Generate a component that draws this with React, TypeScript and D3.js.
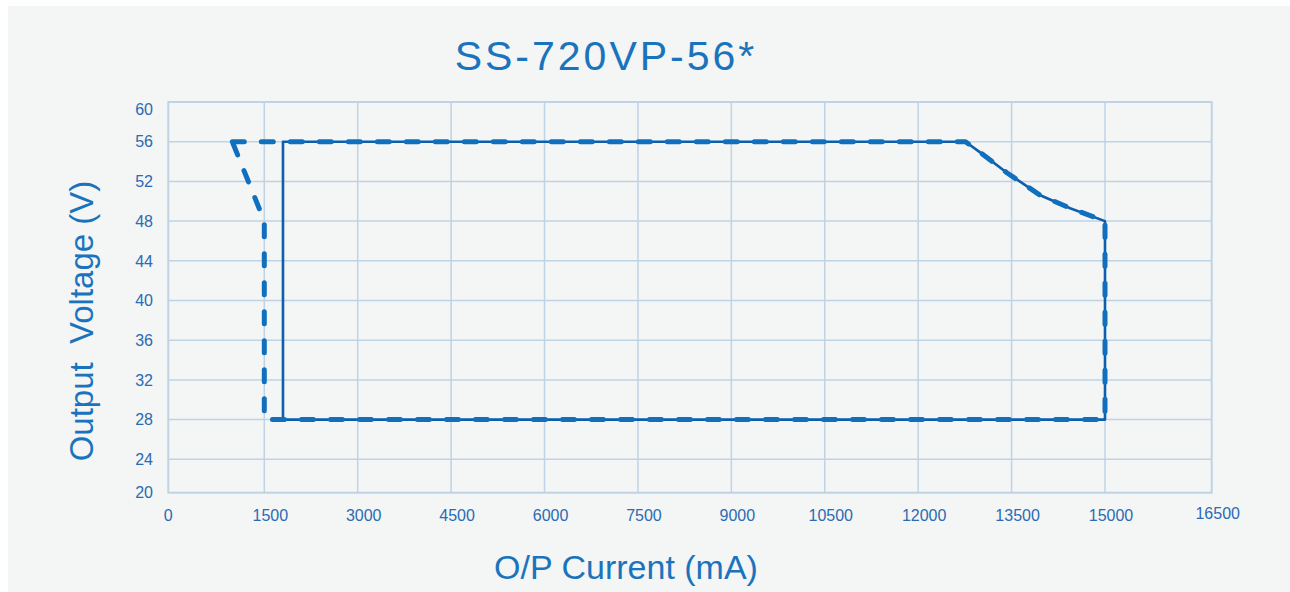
import React, { useEffect, useRef } from 'react';
import * as d3 from 'd3';

// axis ticks
const xTicks = [0, 1500, 3000, 4500, 6000, 7500, 9000, 10500, 12000, 13500, 15000, 16500];
const yTicks = [20, 24, 28, 32, 36, 40, 44, 48, 52, 56, 60];

// solid outline (mA, V)
const solidCurrent = [1800, 1800, 12760, 13000, 13430, 13960, 14440, 15000, 15000, 1800];
const solidVoltage = [28, 56, 56, 54.9, 52.85, 50.6, 49.3, 48, 28, 28];

// dashed outline (mA, V)
const dashedCurrent = [1000, 12760, 13000, 13430, 13960, 14440, 15000, 15000, 1500, 1500, 1000];
const dashedVoltage = [56, 56, 54.9, 52.85, 50.6, 49.3, 48, 28, 28, 48, 56];

const W = 1290;
const H = 592;
const BLUE = '#1a74bd';

export default function App() {
  const svgRef = useRef<SVGSVGElement | null>(null);

  useEffect(() => {
    if (!svgRef.current) return;
    const svg = d3.select(svgRef.current);
    svg.selectAll('*').remove();

    const left = 168.3, right = 1211.7, top = 102, bottom = 492.7;

    // the source chart's intervals are not quite even
    const x = d3.scaleLinear().domain([0, 1500, 15000, 16500]).range([left, 264.3, 1105, right]);
    const y = d3.scaleLinear().domain([20, 24, 60]).range([bottom, 459.3, top]);

    svg.append('rect')
      .attr('x', 8).attr('y', 6)
      .attr('width', W - 8).attr('height', H - 6)
      .attr('fill', '#f4f5f5');

    // grid
    const grid = svg.append('g')
      .attr('stroke', '#bed3e6')
      .attr('stroke-width', 1.5);

    grid.selectAll('line.v')
      .data(xTicks.slice(1, -1))
      .join('line')
      .attr('class', 'v')
      .attr('x1', d => x(d)).attr('x2', d => x(d))
      .attr('y1', top).attr('y2', bottom);

    grid.selectAll('line.h')
      .data(yTicks.slice(1, -1))
      .join('line')
      .attr('class', 'h')
      .attr('x1', left).attr('x2', right)
      .attr('y1', d => y(d)).attr('y2', d => y(d));

    svg.append('rect')
      .attr('x', left).attr('y', top)
      .attr('width', right - left).attr('height', bottom - top)
      .attr('fill', 'none')
      .attr('stroke', '#bed3e6')
      .attr('stroke-width', 2);

    // tick labels
    svg.append('g')
      .attr('font-family', '"Liberation Sans", Arial, sans-serif')
      .attr('font-size', 16)
      .attr('fill', '#2a6bb3')
      .attr('text-anchor', 'end')
      .selectAll('text')
      .data(yTicks)
      .join('text')
      .attr('x', 153)
      .attr('y', d => Math.max(y(d), top + 7))
      .attr('dy', '0.36em')
      .text(d => d);

    svg.append('g')
      .attr('font-family', '"Liberation Sans", Arial, sans-serif')
      .attr('font-size', 16)
      .attr('fill', '#2a6bb3')
      .attr('text-anchor', 'middle')
      .selectAll('text')
      .data(xTicks)
      .join('text')
      .attr('x', d => x(d) + (d === 0 ? 0 : 6))
      .attr('y', d => (d === 16500 ? 519 : 521))
      .text(d => d);

    const pts = (cs: number[], vs: number[]) => cs.map((c, i) => [c, vs[i]] as [number, number]);
    const line = d3.line<[number, number]>()
      .x(d => x(d[0]))
      .y(d => y(d[1]));

    svg.append('path')
      .attr('d', line(pts(solidCurrent, solidVoltage)))
      .attr('fill', 'none')
      .attr('stroke', '#0d5fad')
      .attr('stroke-width', 2.6)
      .attr('stroke-linejoin', 'round');

    svg.append('path')
      .attr('d', line(pts(dashedCurrent, dashedVoltage)))
      .attr('fill', 'none')
      .attr('stroke', '#1170be')
      .attr('stroke-width', 5)
      .attr('stroke-linecap', 'round')
      .attr('stroke-linejoin', 'round')
      .attr('stroke-dasharray', '12 17');

    // titles
    svg.append('text')
      .attr('x', 606).attr('y', 70)
      .attr('text-anchor', 'middle')
      .attr('font-family', '"Liberation Sans", Arial, sans-serif')
      .attr('font-size', 41)
      .attr('letter-spacing', 3)
      .attr('fill', BLUE)
      .text('SS-720VP-56*');

    svg.append('text')
      .attr('x', 626).attr('y', 579)
      .attr('text-anchor', 'middle')
      .attr('font-family', '"Liberation Sans", Arial, sans-serif')
      .attr('font-size', 34)
      .attr('fill', BLUE)
      .text('O/P Current (mA)');

    svg.append('text')
      .attr('transform', 'translate(93,321) rotate(-90)')
      .attr('text-anchor', 'middle')
      .attr('font-family', '"Liberation Sans", Arial, sans-serif')
      .attr('font-size', 33)
      .attr('fill', BLUE)
      .style('white-space', 'pre')
      .text('Output  Voltage (V)');
  }, []);

  return (
    <svg
      ref={svgRef}
      width={W}
      height={H}
      style={{ position: 'absolute', left: 0, top: 0, background: '#ffffff' }}
    />
  );
}
